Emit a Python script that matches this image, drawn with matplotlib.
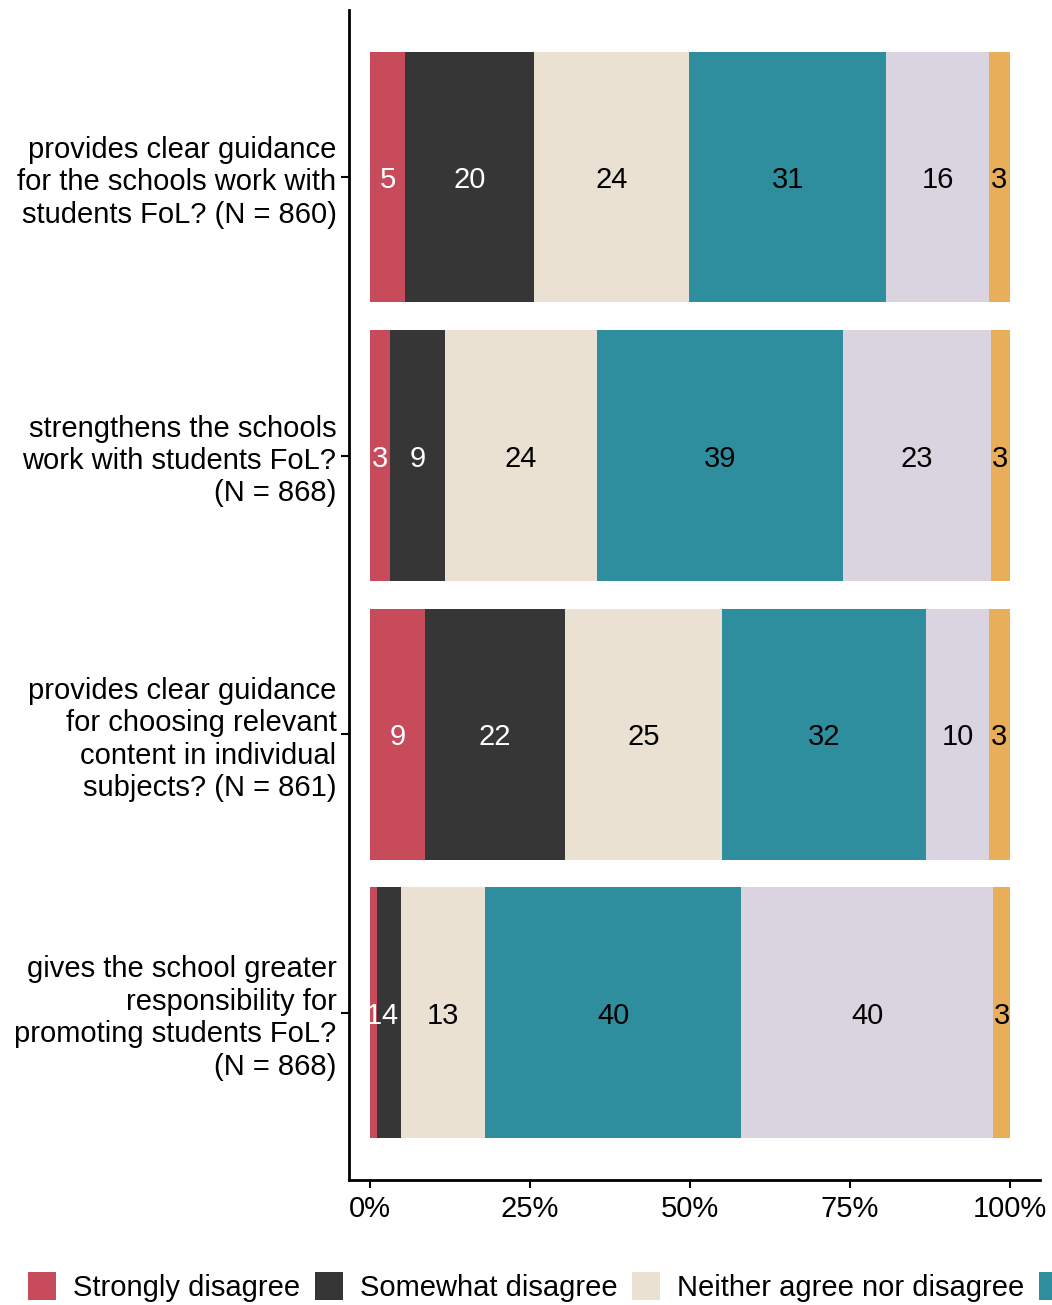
import matplotlib
matplotlib.use("Agg")
import matplotlib.pyplot as plt
from matplotlib.patches import Patch
import numpy as np

# survey items, top to bottom
items = [
    "provides clear guidance\nfor the schools work with\nstudents FoL? (N = 860)",
    "strengthens the schools\nwork with students FoL?\n(N = 868)",
    "provides clear guidance\nfor choosing relevant\ncontent in individual\nsubjects? (N = 861)",
    "gives the school greater\nresponsibility for\npromoting students FoL?\n(N = 868)",
]
levels = ["Strongly disagree", "Somewhat disagree", "Neither agree nor disagree",
          "Somewhat agree", "Strongly agree", "Don't know"]
colors = ["#C84B5B", "#363636", "#EBE1D3", "#2E8E9E", "#DAD3E0", "#E8AE5A"]
label_colors = ["white", "white", "black", "black", "black", "black"]

# percentage shares per item (columns follow levels)
shares = [
    [5.5, 20.1, 24.2, 30.9, 16.0, 3.3],
    [3.1, 8.6, 23.8, 38.4, 23.1, 3.0],
    [8.6, 21.9, 24.5, 31.9, 9.8, 3.3],
    [1.1, 3.8, 13.1, 40.0, 39.4, 2.6],
]
# printed labels
labels = [
    [5, 20, 24, 31, 16, 3],
    [3, 9, 24, 39, 23, 3],
    [9, 22, 25, 32, 10, 3],
    [1, 4, 13, 40, 40, 3],
]

plt.rcParams["font.family"] = ["Liberation Sans", "DejaVu Sans"]
plt.rcParams["font.size"] = 21

fig = plt.figure(figsize=(10.52, 13.05), dpi=100)
ax = fig.add_axes([349 / 1052, 1 - 1180 / 1305, 691 / 1052, 1170 / 1305])

shares = np.array(shares, dtype=float)
total = shares.sum(axis=1, keepdims=True)
pct = shares / total * 100
ypos = np.arange(len(items))
left = np.zeros(len(items))
for j, lev in enumerate(levels):
    ax.barh(ypos, pct[:, j], left=left, height=0.9, color=colors[j], label=lev)
    for i in range(len(items)):
        ax.text(left[i] + pct[i, j] / 2, ypos[i], str(labels[i][j]),
                ha="center", va="center_baseline", color=label_colors[j], fontsize=21)
    left += pct[:, j]

ax.set_xlim(-3.3, 104.7)
ax.set_ylim(len(items) - 0.4, -0.6)
ax.set_yticks(ypos)
ax.set_yticklabels(items, linespacing=1.2)
ax.set_xticks([0, 25, 50, 75, 100])
ax.set_xticklabels(["0%", "25%", "50%", "75%", "100%"])
ax.tick_params(axis="both", length=6, width=1.5, colors="black", labelsize=21)
ax.tick_params(axis="y", pad=3)
ax.tick_params(axis="x", pad=5)
for s in ["top", "right"]:
    ax.spines[s].set_visible(False)
for s in ["left", "bottom"]:
    ax.spines[s].set_linewidth(2)

handles = [Patch(facecolor=c, edgecolor="none") for c in colors]
fig.legend(handles, levels, loc="center left", bbox_to_anchor=(28 / 1052, 1 - 1287 / 1305),
           ncol=6, frameon=False, fontsize=21, handlelength=0.95, handleheight=1.1,
           handletextpad=0.58, columnspacing=0.52, borderaxespad=0, borderpad=0)

fig.savefig("out.png", dpi=100)
